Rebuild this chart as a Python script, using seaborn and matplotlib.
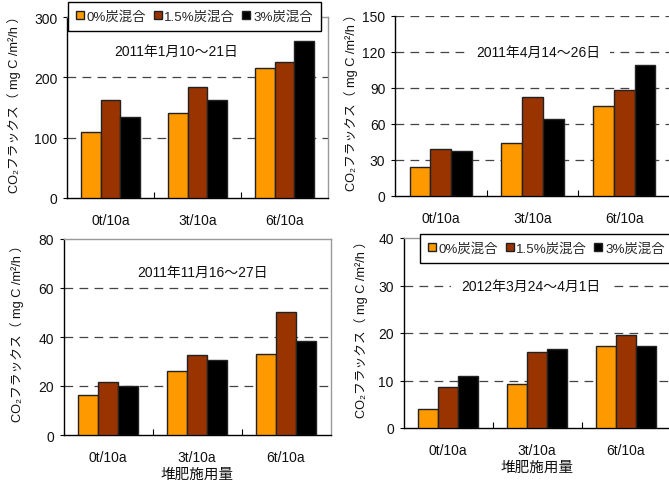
import matplotlib
matplotlib.use("Agg")
import matplotlib.pyplot as plt
import seaborn as sns
import pandas as pd

sns.set_theme(style="white")
plt.rcParams['font.family'] = ['Liberation Sans', 'Noto Sans CJK JP', 'DejaVu Sans']

# compost rates (x categories) and biochar mixing rates (hue)
compost = ["0t/10a", "3t/10a", "6t/10a"]
biochar = ["0%炭混合", "1.5%炭混合", "3%炭混合"]
colors = ["#FF9900", "#993300", "#000000"]

# CO2 flux per period, listed per biochar rate across compost rates
jan_2011 = {"0%炭混合": [110, 141, 216],
            "1.5%炭混合": [163, 184, 225],
            "3%炭混合": [135, 163, 260]}
apr_2011 = {"0%炭混合": [23.8, 44.1, 75.4],
            "1.5%炭混合": [39.1, 82.6, 88.4],
            "3%炭混合": [37.7, 64.3, 109.5]}
nov_2011 = {"0%炭混合": [16.5, 26.0, 33.1],
            "1.5%炭混合": [21.8, 32.7, 50.3],
            "3%炭混合": [20.0, 30.5, 38.3]}
mar_2012 = {"0%炭混合": [4.1, 9.3, 17.2],
            "1.5%炭混合": [8.6, 16.0, 19.6],
            "3%炭混合": [11.0, 16.6, 17.3]}

periods = ["2011年1月10～21日", "2011年4月14～26日",
           "2011年11月16～27日", "2012年3月24～4月1日"]
ymax = [300, 150, 80, 40]
ystep = [100, 30, 20, 10]

ylabel = "CO₂フラックス（ mg C /m²/h ）"
xlabel = "堆肥施用量"

W, H = 669, 481
fig = plt.figure(figsize=(W / 100, H / 100), dpi=100)

def px_axes(left, top, right, bottom):
    return fig.add_axes([left / W, 1 - bottom / H, (right - left) / W, (bottom - top) / H])

axes = [px_axes(67, 18, 328, 199),
        px_axes(395, 17, 670, 197),
        px_axes(63.5, 240, 330.5, 436),
        px_axes(403.5, 239, 670.5, 429)]

datasets = [jan_2011, apr_2011, nov_2011, mar_2012]
text_pos = [(0.42, 0.815, False), (0.52, 0.8, True), (0.52, 0.83, False), (0.476, 0.75, True)]
label_x = [-0.176, -0.136, -0.148, -0.133]

for i, (ax, data) in enumerate(zip(axes, datasets)):
    rows = []
    for b in biochar:
        for c, v in zip(compost, data[b]):
            rows.append({"compost": c, "biochar": b, "flux": v})
    df = pd.DataFrame(rows)
    sns.barplot(data=df, x="compost", y="flux", hue="biochar", order=compost,
                hue_order=biochar, palette=colors, width=0.68, gap=0,
                edgecolor="#222222", linewidth=1.0, saturation=1, ax=ax,
                legend=(i in (0, 3)), zorder=3)
    ax.set_xlim(-0.5, 2.5)
    ax.set_ylim(0, ymax[i])
    ticks = list(range(0, ymax[i] + 1, ystep[i]))
    ax.set_yticks(ticks)
    for t in ticks[1:]:
        if t < ymax[i] or i == 1:
            ax.axhline(t, color="#444444", lw=0.9, ls=(0, (7, 5)), zorder=1)
    ax.tick_params(axis="y", labelsize=10, length=3, width=0.8, color="black",
                   direction="out", left=True, pad=4, labelcolor="#111111")
    ax.set_xticks([0, 1, 2])
    ax.set_xticklabels(compost)
    ax.tick_params(axis="x", labelsize=10, length=0, pad=11, labelcolor="#111111")
    ax.set_xticks([0.5, 1.5], minor=True)
    ax.tick_params(axis="x", which="minor", length=4, width=0.8, direction="in",
                   bottom=True, color="black")
    for s in ("left", "bottom"):
        ax.spines[s].set_color("black")
        ax.spines[s].set_linewidth(1.0)
    for s in ("top", "right"):
        ax.spines[s].set_color("#999999")
        ax.spines[s].set_linewidth(1.0)
    if i == 1:
        ax.spines["top"].set_visible(False)
    ax.set_ylabel(ylabel, fontsize=9.2, color="#111111")
    ax.yaxis.set_label_coords(label_x[i], 0.54)
    if i >= 2:
        ax.set_xlabel(xlabel, fontsize=10.5, color="#111111", labelpad=2)
    else:
        ax.set_xlabel("")
    tx, ty, boxed = text_pos[i]
    kw = {}
    if boxed:
        kw["bbox"] = dict(boxstyle="square,pad=0.7", fc="white", ec="none")
    ax.text(tx, ty, periods[i], transform=ax.transAxes, ha="center", va="center",
            fontsize=10, color="#111111", zorder=4, **kw)

legend_anchor = {0: (68 / W, 1 - 3 / H), 3: (420 / W, 1 - 235 / H)}
for i in (0, 3):
    ax = axes[i]
    leg = ax.legend(loc="upper left", bbox_to_anchor=legend_anchor[i],
                    bbox_transform=fig.transFigure, ncol=3, fontsize=9.6,
                    frameon=True, fancybox=False, edgecolor="black", framealpha=1,
                    borderaxespad=0, handlelength=0.6, handleheight=0.6,
                    handletextpad=0.2, columnspacing=0.55, borderpad=0.6,
                    title=None)
    leg.get_frame().set_linewidth(1.0)
    leg.set_zorder(10)

fig.savefig("out.png", dpi=100)
